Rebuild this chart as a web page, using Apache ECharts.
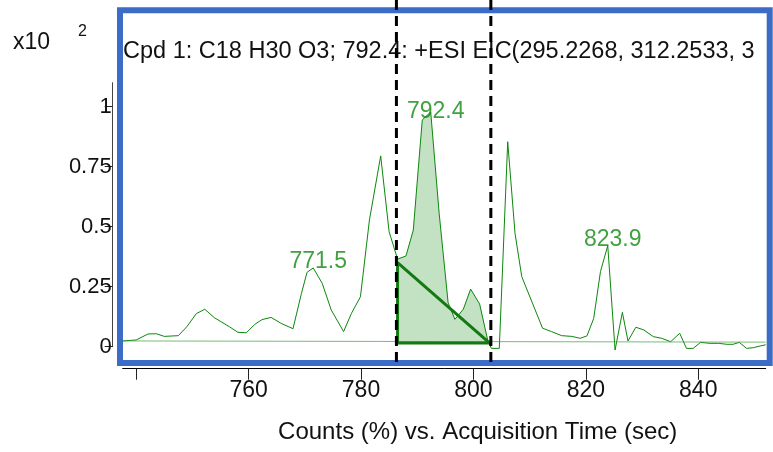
<!DOCTYPE html>
<html>
<head>
<meta charset="utf-8">
<script src="https://cdn.jsdelivr.net/npm/echarts@6/dist/echarts.min.js"></script>
<style>
  html, body { margin: 0; padding: 0; background: #fff; }
  #chart { width: 773px; height: 452px; }
</style>
</head>
<body>
<div id="chart"></div>
<script>
// EIC trace: acquisition time (sec) and counts (x10^2)
const times = [
  737.6, 740.0, 742.1, 743.6, 745.0, 747.5, 749.0, 750.7, 752.2, 753.9,
  755.1, 756.6, 758.1, 759.6, 761.1, 762.4, 764.0, 765.8, 767.9, 769.4,
  770.4, 771.5, 773.1, 774.7, 776.9, 778.3, 779.9, 781.5, 783.5, 785.0,
  786.5, 788.0, 789.3, 790.9, 792.4, 793.9, 795.5, 796.7, 798.2, 799.5,
  801.1, 802.6, 803.2, 804.6, 806.1, 807.4, 808.6, 812.3, 813.9, 815.7,
  817.5, 819.0, 820.2, 821.4, 822.6, 823.9, 825.2, 826.5, 827.5, 828.9,
  830.3, 832.0, 833.5, 835.1, 836.7, 837.9, 839.1, 840.4, 842.1, 843.6,
  845.1, 846.2, 847.3, 848.6, 849.8, 851.0, 852.0
];
const counts = [
  0.024, 0.028, 0.053, 0.054, 0.043, 0.046, 0.083, 0.138, 0.156, 0.121,
  0.104, 0.083, 0.060, 0.058, 0.093, 0.113, 0.122, 0.097, 0.075, 0.222,
  0.310, 0.328, 0.264, 0.153, 0.063, 0.139, 0.208, 0.528, 0.795, 0.479,
  0.365, 0.378, 0.486, 0.945, 0.978, 0.556, 0.183, 0.114, 0.156, 0.240,
  0.178, 0.021, -0.007, -0.007, 0.854, 0.472, 0.292, 0.077, 0.063, 0.046,
  0.043, 0.035, 0.045, 0.118, 0.313, 0.421, -0.014, 0.143, 0.024, 0.081,
  0.070, 0.042, 0.035, 0.021, 0.056, -0.007, -0.007, 0.018, 0.014, 0.014,
  0.010, 0.010, 0.018, -0.007, -0.004, 0.003, 0.008
];

// labelled peak apexes (retention time, counts)
const peakTimes = [771.5, 792.4, 823.9];
const peakCounts = [0.328, 0.978, 0.421];

// integration window (dashed markers) and integrated region
const windowTimes = [786.3, 803.1];
const integStart = [786.5, 0.015];
const integStartTop = [786.5, 0.35];
const integEnd = [802.9, 0.015];

// overall baseline drawn across the trace
const baselineStart = [737.6, 0.024];
const baselineEnd = [852.0, 0.019];

// axis ticks
const xTicks = [740, 760, 780, 800, 820, 840];
const xLabels = [760, 780, 800, 820, 840];
const yTicks = [0, 0.25, 0.5, 0.75, 1];

const titleText = 'Cpd 1: C18 H30 O3; 792.4: +ESI EIC(295.2268, 312.2533, 317.2088) Scan Frag=175.0V';
const xName = 'Counts (%) vs. Acquisition Time (sec)';

const FONT = '"Liberation Sans", Arial, Helvetica, sans-serif';
const GREEN = '#0c870c';

const trace = times.map((t, i) => [t, counts[i]]);
const filled = trace.filter(p => p[0] >= integStart[0] && p[0] <= integEnd[0]);
const peaks = peakTimes.map((t, i) => ({
  value: [t, peakCounts[i]],
  label: peakCounts[i] > 0.9 ? { position: 'inside', offset: [5, 0] } : undefined
}));

const chart = echarts.init(document.getElementById('chart'), null, { renderer: 'canvas' });

// selection frame around the plot area (canvas pixels)
const FRAME = { x: 120, y: 10.3, w: 649.7, h: 352.7 };

chart.setOption({
  animation: false,
  backgroundColor: '#ffffff',
  textStyle: { fontFamily: FONT },
  title: {
    text: titleText,
    left: 123,
    top: 40,
    padding: 0,
    textStyle: {
      fontFamily: FONT,
      fontSize: 23.5,
      fontWeight: 'normal',
      color: '#111',
      width: 646,
      overflow: 'truncate',
      ellipsis: ''
    }
  },
  grid: {
    left: 122.7,
    right: 7.3,
    top: 82.7,
    bottom: 105.3,
    containLabel: false,
    outerBoundsMode: 'none'
  },
  graphic: [
    {
      type: 'text',
      x: 13,
      y: 31,
      style: { text: 'x10', fontSize: 23, fontFamily: FONT, fill: '#111' }
    },
    {
      type: 'text',
      x: 78,
      y: 24,
      style: { text: '2', fontSize: 16, fontFamily: FONT, fill: '#111' }
    }
  ],
  xAxis: {
    type: 'value',
    min: baselineStart[0],
    max: baselineEnd[0],
    offset: 22,
    splitLine: { show: false },
    axisLine: { show: true, onZero: false, lineStyle: { color: '#000', width: 1 } },
    axisTick: { show: true, length: 11, customValues: xTicks, lineStyle: { color: '#222' } },
    axisLabel: {
      customValues: xLabels,
      fontSize: 23,
      color: '#111',
      margin: 10,
      fontFamily: FONT
    },
    name: xName,
    nameLocation: 'middle',
    nameGap: 52,
    nameTextStyle: {
      fontSize: 24,
      color: '#111',
      fontFamily: FONT,
      padding: [0, 0, 0, 67]
    }
  },
  yAxis: {
    type: 'value',
    min: 0,
    max: 1.1,
    offset: 10,
    splitLine: { show: false },
    axisLine: { show: true, lineStyle: { color: '#444', width: 1 } },
    axisTick: { show: true, length: 8, customValues: yTicks, lineStyle: { color: '#222' } },
    axisLabel: {
      customValues: yTicks,
      fontSize: 22,
      color: '#111',
      margin: 1,
      fontFamily: FONT
    }
  },
  series: [
    {
      // blue selection frame
      type: 'custom',
      data: [[0, 0]],
      clip: false,
      silent: true,
      z: 0,
      renderItem: () => ({
        type: 'rect',
        shape: { x: FRAME.x, y: FRAME.y, width: FRAME.w, height: FRAME.h },
        style: { fill: 'none', stroke: '#3a6cc8', lineWidth: 6 }
      })
    },
    {
      // integrated area under the peak
      type: 'line',
      data: filled,
      symbol: 'none',
      lineStyle: { width: 0 },
      areaStyle: { color: '#c3e1c3', opacity: 1, origin: integStart[1] },
      clip: false,
      silent: true,
      z: 1
    },
    {
      type: 'line',
      name: 'EIC',
      data: trace,
      symbol: 'none',
      lineStyle: { color: GREEN, width: 1 },
      clip: false,
      z: 3
    },
    {
      type: 'line',
      data: [baselineStart, baselineEnd],
      symbol: 'none',
      lineStyle: { color: '#3da03d', width: 1, opacity: 0.7 },
      clip: false,
      z: 3
    },
    {
      // integration baseline triangle
      type: 'line',
      data: [integStart, integStartTop, integEnd, integStart],
      symbol: 'none',
      lineStyle: { color: '#137a13', width: 3 },
      clip: false,
      z: 4
    },
    {
      type: 'scatter',
      data: peaks,
      symbolSize: 0,
      clip: false,
      z: 5,
      label: {
        show: true,
        position: 'top',
        distance: 0,
        offset: [5, 5],
        formatter: p => p.value[0].toFixed(1),
        fontSize: 23,
        color: '#118a11',
        fontFamily: FONT
      }
    },
    {
      // dashed integration window markers
      type: 'custom',
      data: windowTimes.map(t => [t, 0]),
      clip: false,
      z: 10,
      renderItem: (params, api) => {
        const x = api.coord([api.value(0), 0])[0];
        return {
          type: 'line',
          shape: { x1: x, y1: 0, x2: x, y2: 366 },
          style: { stroke: '#000', lineWidth: 3, lineDash: [10, 6] }
        };
      }
    }
  ]
});
</script>
</body>
</html>
